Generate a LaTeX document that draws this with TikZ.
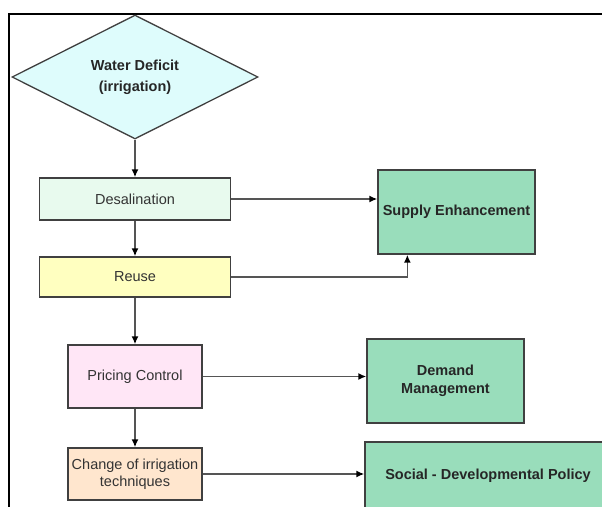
\documentclass[tikz,border=0pt]{standalone}
\usepackage{fontspec}
\setmainfont{Liberation Sans}
\usetikzlibrary{shapes.geometric,arrows.meta,calc}
\definecolor{cyanfill}{HTML}{DEFCFC}
\definecolor{mintfill}{HTML}{E8FAEE}
\definecolor{yellowfill}{HTML}{FFFFC0}
\definecolor{pinkfill}{HTML}{FFE6F6}
\definecolor{peachfill}{HTML}{FFE6CE}
\definecolor{greenfill}{HTML}{99DDBB}
\definecolor{edgegray}{HTML}{404040}
\definecolor{linegray}{HTML}{555555}
\definecolor{txtgray}{HTML}{333333}
\tikzset{
  box/.style={draw=edgegray, line width=1.3pt, inner sep=0pt, align=center,
    font=\fontsize{14.5}{17.5}\selectfont, text=txtgray},
  greenbox/.style={box, fill=greenfill, font=\fontsize{14.5}{17.5}\selectfont\bfseries, text=black!85},
  conn/.style={draw=linegray, line width=1.6pt, -{Latex[length=8pt,width=7pt,color=black]}},
}
\begin{document}
\begin{tikzpicture}[x=1pt,y=-1pt]
\useasboundingbox (0,0) rectangle (602,506);
\clip (0,0) rectangle (602,506);
\fill[white] (0,0) rectangle (602,506);
\draw[line width=2pt, black] (8.5,507) -- (8.5,14) -- (603,14);

\node[box, shape=diamond, fill=cyanfill, minimum width=246pt, minimum height=124pt,
  font=\fontsize{14.5}{21}\selectfont\bfseries, text=black!85] (wd) at (135,77) {Water Deficit\\(irrigation)};
\node[box, fill=mintfill, minimum width=191pt, minimum height=42pt] (desal) at (135,199) {Desalination};
\node[box, fill=yellowfill, minimum width=191pt, minimum height=40pt] (reuse) at (135,277) {Reuse};
\node[box, fill=pinkfill, minimum width=134pt, minimum height=63pt] (pricing) at (135,376.5) {Pricing Control};
\node[box, fill=peachfill, minimum width=134pt, minimum height=52pt] (change) at (135,474) {Change of irrigation\\techniques};

\node[greenbox, minimum width=157pt, minimum height=84pt] (supply) at (456.5,212) {Supply Enhancement};
\node[greenbox, minimum width=157pt, minimum height=84pt] (demand) at (445.5,381) {Demand\\Management};
\node[greenbox, minimum width=246pt, minimum height=68pt] (social) at (488,476) {Social - Developmental Policy};

\draw[conn] (wd.south) -- (desal.north);
\draw[conn] (desal.south) -- (reuse.north);
\draw[conn] (reuse.south) -- (pricing.north);
\draw[conn] (pricing.south) -- (change.north);

\draw[conn] (desal.east) -- (desal.east -| supply.west);
\draw[conn] (reuse.east) -| ([xshift=30pt]supply.south west);
\draw[conn] (pricing.east) -- (pricing.east -| demand.west);
\draw[conn] (change.east) -- (change.east -| social.west);
\end{tikzpicture}
\end{document}
